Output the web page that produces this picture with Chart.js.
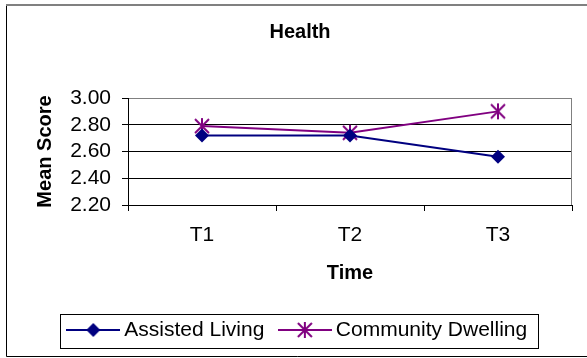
<!DOCTYPE html>
<html><head><meta charset="utf-8">
<script src="https://cdn.jsdelivr.net/npm/chart.js@4.4.0/dist/chart.umd.min.js"></script>
<style>html,body{margin:0;padding:0;background:#fff;overflow:hidden}</style>
</head><body><canvas id="c" width="587" height="358"></canvas>
<script>
const categories = ['T1', 'T2', 'T3'];
const assistedLiving = [2.72, 2.72, 2.56];
const communityDwelling = [2.79, 2.74, 2.90];
const seriesNames = ['Assisted Living', 'Community Dwelling'];
const seriesColors = ['#000080', '#800080'];
const yTickLabels = ['2.20', '2.40', '2.60', '2.80', '3.00'];
const chartTitle = 'Health';
const xTitle = 'Time';
const yTitle = 'Mean Score';

const FONT = '"Liberation Sans", Arial, Helvetica, sans-serif';
Chart.defaults.font.family = FONT;
Chart.defaults.color = '#000';

function drawStar(g, cx, cy, color) {
  g.strokeStyle = color; g.lineWidth = 2; g.beginPath();
  g.moveTo(cx, cy - 8); g.lineTo(cx, cy + 8);
  g.moveTo(cx - 7, cy - 7); g.lineTo(cx + 7, cy + 7);
  g.moveTo(cx + 7, cy - 7); g.lineTo(cx - 7, cy + 7);
  g.stroke();
}
function drawDiamond(g, cx, cy, color) {
  g.fillStyle = color; g.beginPath();
  g.moveTo(cx, cy - 7); g.lineTo(cx + 7, cy); g.lineTo(cx, cy + 7); g.lineTo(cx - 7, cy);
  g.closePath(); g.fill();
}
function starImg(color) {
  const c = document.createElement('canvas'); c.width = 18; c.height = 18;
  drawStar(c.getContext('2d'), 9, 9, color); return c;
}
function legendImg(color, kind) {
  const c = document.createElement('canvas'); c.width = 54; c.height = 18;
  const g = c.getContext('2d');
  g.strokeStyle = color; g.lineWidth = 2; g.beginPath(); g.moveTo(0, 9); g.lineTo(54, 9); g.stroke();
  if (kind === 'diamond') drawDiamond(g, 27, 9, color); else drawStar(g, 27, 9, color);
  return c;
}
const legendImgs = [legendImg(seriesColors[0], 'diamond'), legendImg(seriesColors[1], 'star')];

const framePlugin = {
  id: 'frame',
  beforeDraw(chart) {
    const g = chart.ctx; g.save(); g.fillStyle = '#fff'; g.fillRect(0, 0, chart.width, chart.height); g.restore();
  },
  afterDraw(chart) {
    const g = chart.ctx, a = chart.chartArea; g.save();
    g.strokeStyle = '#808080'; g.lineWidth = 1; g.beginPath();
    g.moveTo(Math.round(a.right) - 0.5, a.top); g.lineTo(Math.round(a.right) - 0.5, a.bottom); g.stroke();
    g.strokeStyle = '#000'; g.lineWidth = 1; g.beginPath();
    g.moveTo(600, 356.5); g.lineTo(6.5, 356.5); g.lineTo(6.5, 5); g.stroke();
    g.strokeStyle = '#808080'; g.lineWidth = 2; g.beginPath(); g.moveTo(6, 5); g.lineTo(600, 5); g.stroke();
    const hb = chart.legend.legendHitBoxes;
    if (hb && hb.length) {
      const f = hb[0], l = hb[hb.length - 1];
      const x0 = f.left - 12.5, x1 = l.left + l.width + 11, cy = f.top + f.height / 2;
      g.strokeStyle = '#000'; g.lineWidth = 1;
      g.strokeRect(Math.round(x0) + 0.5, Math.round(cy - 16) + 0.5, Math.round(x1 - x0), 34);
    }
    g.restore();
  }
};

new Chart(document.getElementById('c'), {
  type: 'line',
  data: {
    labels: categories,
    datasets: [
      { label: seriesNames[0], data: assistedLiving, borderColor: seriesColors[0], backgroundColor: seriesColors[0],
        borderWidth: 2, pointStyle: 'rectRot', pointRadius: 7, pointBorderWidth: 0, tension: 0 },
      { label: seriesNames[1], data: communityDwelling, borderColor: seriesColors[1], backgroundColor: seriesColors[1],
        borderWidth: 2, pointStyle: starImg(seriesColors[1]), pointRadius: 8, tension: 0 }
    ]
  },
  options: {
    responsive: false, animation: false, devicePixelRatio: 1,
    layout: { padding: { left: 28, right: 15, top: 0, bottom: 7.5 } },
    plugins: {
      tooltip: { enabled: false },
      title: { display: true, text: chartTitle, color: '#000', font: { size: 20, weight: 'bold' }, padding: { top: 20, bottom: 54 } },
      legend: {
        position: 'bottom',
        labels: {
          usePointStyle: true, pointStyleWidth: 41, padding: 20, color: '#000', font: { size: 21 },
          generateLabels: (chart) => chart.data.datasets.map((ds, i) => ({
            text: ds.label, pointStyle: legendImgs[i], fillStyle: ds.borderColor, strokeStyle: ds.borderColor,
            lineWidth: 0, hidden: false, datasetIndex: i, fontColor: '#000'
          }))
        }
      }
    },
    scales: {
      x: {
        offset: true,
        afterFit: (s) => { s.height = 94.5; },
        grid: { offset: true, drawOnChartArea: false, tickLength: 6, color: '#000' },
        border: { color: '#000', width: 1 },
        ticks: { padding: 12, font: { size: 21 }, color: '#000' },
        title: { display: true, text: xTitle, color: '#000', font: { size: 20, weight: 'bold' }, padding: { top: 0, bottom: 14.5 } }
      },
      y: {
        min: parseFloat(yTickLabels[0]), max: parseFloat(yTickLabels[yTickLabels.length - 1]),
        afterFit: (s) => { s.width = 100; },
        grid: { color: (c) => (c.tick && Math.abs(c.tick.value - 3) < 1e-6) ? '#808080' : '#000', tickColor: '#000', tickLength: 6 },
        border: { color: '#000', width: 1 },
        ticks: { stepSize: 0.2, autoSkip: false, padding: 11, font: { size: 21 }, color: '#000', callback: (v, i) => yTickLabels[i] },
        title: { display: true, text: yTitle, color: '#000', font: { size: 20, weight: 'bold' }, padding: { top: 5, bottom: 0 } }
      }
    }
  },
  plugins: [framePlugin]
});
</script>
</body></html>
